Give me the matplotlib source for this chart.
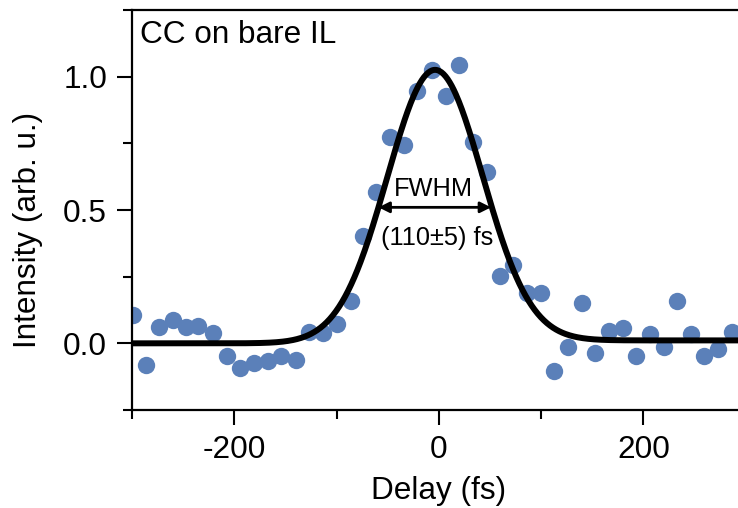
import numpy as np
import matplotlib.pyplot as plt
from matplotlib.ticker import MultipleLocator

plt.rcParams['font.family'] = ['Liberation Sans', 'DejaVu Sans']
plt.rcParams['axes.unicode_minus'] = False

# measured cross-correlation points
delay = [-299, -286, -274, -260, -247, -235, -221, -207, -194, -181,
         -167, -154, -140, -127, -113, -100, -86, -74, -61, -48,
         -34, -21, -7, 7, 20, 33, 47, 60, 72, 86,
         100, 113, 126, 140, 153, 166, 180, 193, 206, 220,
         233, 246, 259, 273, 287]
intensity = [0.105, -0.083, 0.060, 0.086, 0.060, 0.064, 0.038, -0.049, -0.094, -0.075,
             -0.068, -0.049, -0.064, 0.041, 0.038, 0.071, 0.158, 0.402, 0.568, 0.774,
             0.744, 0.947, 1.026, 0.929, 1.045, 0.756, 0.643, 0.252, 0.293, 0.188,
             0.188, -0.102, -0.015, 0.150, -0.038, 0.045, 0.056, -0.049, 0.034, -0.015,
             0.158, 0.034, -0.049, -0.023, 0.041]

# gaussian fit parameters
fit_amp = 1.02
fit_center = -4.0
fit_fwhm = 110.0
fit_step = 0.011

t = np.linspace(-300, 300, 600)
fit = fit_amp * np.exp(-4 * np.log(2) * (t - fit_center) ** 2 / fit_fwhm ** 2)
fit += fit_step * 0.5 * (1 + np.tanh((t - fit_center) / 40.0))

big = 22.7
small = 18.3

fig = plt.figure(figsize=(7.38, 5.08), dpi=100)
ax = fig.add_axes([132 / 738, 98 / 508, 613.75 / 738, 400 / 508])

ax.plot(delay, intensity, 'o', color='#5b80b9', markersize=12.5, markeredgewidth=0, zorder=2)
ax.plot(t, fit, color='black', lw=4.3, zorder=3)

half = fit_amp / 2
ax.annotate('', xy=(fit_center - fit_fwhm / 2, half), xytext=(fit_center + fit_fwhm / 2, half),
            arrowprops=dict(arrowstyle='<|-|>', color='black', lw=2, mutation_scale=16,
                            shrinkA=0, shrinkB=0), zorder=4)
ax.text(-5, 0.58, 'FWHM', ha='center', va='center', fontsize=small)
ax.text(-2, 0.395, '(110±5) fs', ha='center', va='center', fontsize=small)
ax.text(0.013, 0.975, 'CC on bare IL', transform=ax.transAxes, ha='left', va='top', fontsize=big)

ax.set_xlim(-300, 300)
ax.set_ylim(-0.25, 1.25)
ax.xaxis.set_major_locator(MultipleLocator(200))
ax.xaxis.set_minor_locator(MultipleLocator(100))
ax.yaxis.set_minor_locator(MultipleLocator(0.25))
ax.set_yticks([0, 0.5, 1.0])
ax.set_yticklabels(['0.0', '0.5', '1.0'])

ax.tick_params(which='major', direction='out', length=11, width=1.5, labelsize=big)
ax.tick_params(which='minor', direction='out', length=6.5, width=1.5)
ax.tick_params(axis='x', pad=7)
ax.tick_params(axis='y', pad=7)
for s in ax.spines.values():
    s.set_linewidth(1.6)

ax.set_xlabel('Delay (fs)', fontsize=big)
ax.set_ylabel('Intensity (arb. u.)', fontsize=big)
ax.xaxis.set_label_coords(0.5, -0.165)
ax.yaxis.set_label_coords(-0.145, 0.45)

fig.savefig('out.png', dpi=100)
